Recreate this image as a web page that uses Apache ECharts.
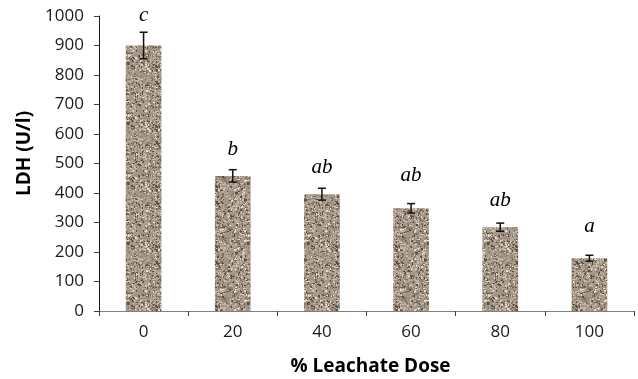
<!DOCTYPE html>
<html>
<head>
<meta charset="utf-8">
<script src="https://cdn.jsdelivr.net/npm/echarts@6/dist/echarts.min.js"></script>
<style>
html,body{margin:0;padding:0;background:#fff;}
#chart{width:638px;height:379px;}
</style>
</head>
<body>
<div id="chart"></div>
<script>
// ---- data ----
const categories = ['0', '20', '40', '60', '80', '100'];
const ldhValues = [900, 458, 396, 348, 284, 179];
const ldhErrors = [45, 21, 20, 16, 14, 10];
const sigLetters = ['c', 'b', 'ab', 'ab', 'ab', 'a'];
const letterLevels = [1003, 549, 488, 458, 376, 285];
const yTicks = [0, 100, 200, 300, 400, 500, 600, 700, 800, 900, 1000];

// ---- texture (deterministic speckle) ----
function makeTexture() {
  const W = 60, H = 60;
  const c = document.createElement('canvas');
  c.width = W; c.height = H;
  const ctx = c.getContext('2d');
  let s = 987654;
  function rnd() { s = (s * 1103515245 + 12345) & 0x7fffffff; return s / 0x7fffffff; }
  ctx.fillStyle = '#a39585';
  ctx.fillRect(0, 0, W, H);
  for (let i = 0; i < 1400; i++) {
    const x = Math.floor(rnd() * W), y = Math.floor(rnd() * H);
    const r = rnd();
    let col;
    if (r < 0.18) col = '#5b4f45';
    else if (r < 0.45) col = '#837567';
    else if (r < 0.72) col = '#b6a898';
    else if (r < 0.92) col = '#c7baab';
    else col = '#e4dacd';
    const w = rnd() < 0.5 ? 1 : 2, h = rnd() < 0.5 ? 1 : 2;
    ctx.fillStyle = col;
    ctx.fillRect(x, y, w, h);
  }
  return c;
}
const tex = makeTexture();

const chart = echarts.init(document.getElementById('chart'), null, {renderer: 'canvas'});
const labelFont = 'Open Sans';
const tickLabel = {fontFamily: labelFont, fontSize: 17, color: '#1a1a1a'};

chart.setOption({
  animation: false,
  backgroundColor: '#ffffff',
  textStyle: {fontFamily: labelFont},
  grid: {left: 99, right: 4, top: 16, bottom: 68, containLabel: false, outerBoundsMode: 'none'},
  xAxis: {
    type: 'category',
    data: categories,
    name: '% Leachate Dose',
    nameLocation: 'middle',
    nameGap: 46,
    nameTextStyle: {fontFamily: labelFont, fontWeight: 'bold', fontSize: 19, color: '#000', padding: [0, 0, 0, 8]},
    axisLine: {show: true, lineStyle: {color: '#808080', width: 1}},
    axisTick: {show: true, length: 5, lineStyle: {color: '#404040'}},
    axisLabel: Object.assign({margin: 13}, tickLabel),
    splitLine: {show: false}
  },
  yAxis: {
    type: 'value',
    min: yTicks[0],
    max: yTicks[yTicks.length - 1],
    interval: yTicks[1] - yTicks[0],
    name: 'LDH (U/l)',
    nameLocation: 'middle',
    nameGap: 55,
    nameRotate: 90,
    nameTextStyle: {fontFamily: labelFont, fontWeight: 'bold', fontSize: 19, color: '#000', padding: [0, 0, 0, 20]},
    axisLine: {show: true, lineStyle: {color: '#1a1a1a', width: 1}},
    axisTick: {show: true, length: 5, lineStyle: {color: '#404040'}},
    axisLabel: Object.assign({margin: 15, formatter: v => String(v)}, tickLabel),
    splitLine: {show: false}
  },
  series: [
    {
      type: 'bar',
      data: ldhValues,
      barWidth: '40%',
      itemStyle: {color: {image: tex, repeat: 'repeat'}},
      z: 2
    },
    {
      type: 'custom',
      z: 5,
      data: ldhValues.map((v, i) => [i, v, ldhErrors[i]]),
      renderItem: function (params, api) {
        const i = api.value(0);
        const v = api.value(1);
        const e = api.value(2);
        const top = api.coord([i, v + e]);
        const bot = api.coord([i, v - e]);
        const hw = 4;
        const st = {stroke: '#111', lineWidth: 1.5};
        return {
          type: 'group',
          children: [
            {type: 'line', shape: {x1: top[0], y1: top[1], x2: bot[0], y2: bot[1]}, style: st},
            {type: 'line', shape: {x1: top[0] - hw, y1: top[1], x2: top[0] + hw, y2: top[1]}, style: st},
            {type: 'line', shape: {x1: bot[0] - hw, y1: bot[1], x2: bot[0] + hw, y2: bot[1]}, style: st}
          ]
        };
      }
    },
    {
      type: 'custom',
      z: 6,
      data: letterLevels.map((v, i) => [i, v]),
      renderItem: function (params, api) {
        const p = api.coord([api.value(0), api.value(1)]);
        return {
          type: 'text',
          x: p[0], y: p[1],
          style: {
            text: sigLetters[params.dataIndex],
            font: 'italic 21px "Liberation Serif", serif',
            fill: '#000',
            align: 'center',
            verticalAlign: 'middle'
          }
        };
      }
    }
  ]
});
</script>
</body>
</html>
